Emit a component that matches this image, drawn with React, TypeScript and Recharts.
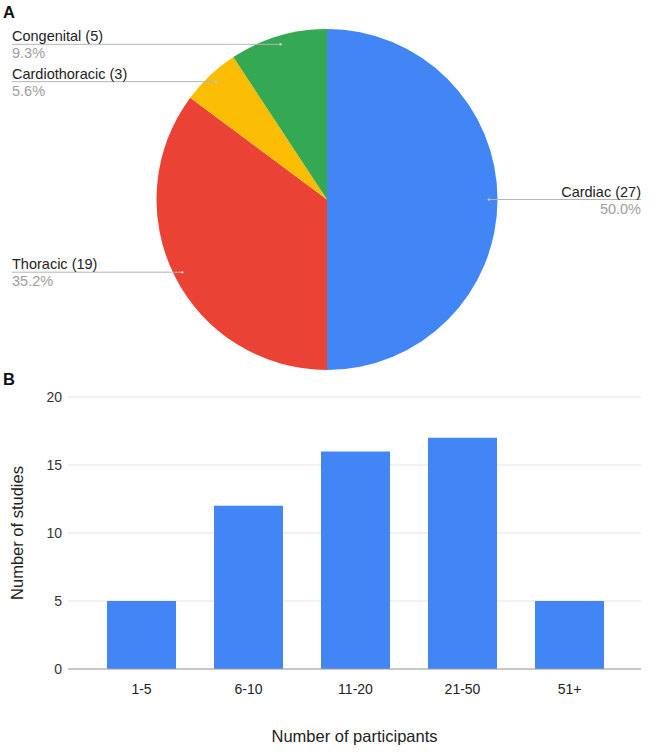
import React from 'react';
import { PieChart, Pie, Cell, BarChart, Bar, XAxis, YAxis, CartesianGrid } from 'recharts';

const categories = ['Cardiac', 'Thoracic', 'Cardiothoracic', 'Congenital'];
const counts = [27, 19, 3, 5];
const sliceColors = ['#4285f4', '#ea4335', '#fbbc04', '#34a853'];

const participantBins = ['1-5', '6-10', '11-20', '21-50', '51+'];
const studyCounts = [5, 12, 16, 17, 5];
const yTicks = [0, 5, 10, 15, 20];

const total = counts.reduce((a, b) => a + b, 0);
const pieData = categories.map((name, i) => ({ name, value: counts[i] }));
const barData = participantBins.map((bin, i) => ({ bin, studies: studyCounts[i] }));

const FONT = '"Liberation Sans", Arial, Helvetica, sans-serif';

const renderLabel = (props: any) => {
  const { cx, cy, midAngle, outerRadius, index } = props;
  const RAD = Math.PI / 180;
  const r = outerRadius * 0.95;
  const px = cx + r * Math.cos(-midAngle * RAD);
  const py = cy + r * Math.sin(-midAngle * RAD);
  const right = px > cx + 1;
  const ex = right ? 641 : 12;
  const anchor = right ? 'end' : 'start';
  const pct = ((counts[index] / total) * 100).toFixed(1) + '%';
  return (
    <g key={'lbl' + index}>
      <line x1={px} y1={py} x2={ex} y2={py} stroke="#b5b5b5" strokeWidth={1} />
      <circle cx={px} cy={py} r={1.3} fill="#c8c8c8" />
      <text x={ex} y={py - 3} textAnchor={anchor} fill="#222" fontSize={14.5} fontFamily={FONT}>
        {categories[index]} ({counts[index]})
      </text>
      <text x={ex} y={py + 14} textAnchor={anchor} fill="#9e9e9e" fontSize={14.5} fontFamily={FONT}>
        {pct}
      </text>
    </g>
  );
};

export default function App() {
  return (
    <div style={{ position: 'absolute', left: 0, top: 0, width: 661, height: 755, background: '#fff', fontFamily: FONT }}>
      <div style={{ position: 'absolute', left: 0, top: 0 }}>
        <PieChart width={661} height={380} margin={{ top: 0, right: 0, bottom: 0, left: 0 }}>
          <Pie
            data={pieData}
            dataKey="value"
            nameKey="name"
            cx={327}
            cy={199.5}
            outerRadius={170.5}
            startAngle={90}
            endAngle={-270}
            stroke="none"
            label={renderLabel}
            labelLine={false}
            isAnimationActive={false}
          >
            {pieData.map((d, i) => (
              <Cell key={d.name} fill={sliceColors[i]} />
            ))}
          </Pie>
        </PieChart>
      </div>
      <div style={{ position: 'absolute', left: 0, top: 360 }}>
        <BarChart width={661} height={395} data={barData} margin={{ top: 37, right: 20, bottom: 0, left: 0 }} barSize={69}>
          <CartesianGrid vertical={false} stroke="#e3e3e3" />
          <XAxis
            dataKey="bin"
            height={86}
            padding={{ left: 20, right: 18 }}
            tickLine={false}
            tickSize={0}
            tickMargin={15}
            axisLine={{ stroke: '#a0a0a0' }}
            tick={{ fill: '#222', fontSize: 14 }}
            label={{ value: 'Number of participants', position: 'insideBottom', offset: 13, fill: '#222', fontSize: 16.5 }}
          />
          <YAxis
            width={68}
            domain={[0, 20]}
            ticks={yTicks}
            axisLine={false}
            tickLine={false}
            tickSize={0}
            tickMargin={6}
            tick={{ fill: '#333', fontSize: 14 }}
            label={{ value: 'Number of studies', angle: -90, position: 'insideLeft', offset: 17.5, textAnchor: 'middle', fill: '#222', fontSize: 16.5 }}
          />
          <Bar dataKey="studies" fill="#4285f4" isAnimationActive={false} />
        </BarChart>
      </div>
      <svg width={661} height={755} style={{ position: 'absolute', left: 0, top: 0, pointerEvents: 'none' }}>
        <text x={3} y={18} fontSize={16.5} fontWeight="bold" fill="#111" fontFamily={FONT}>A</text>
        <text x={3} y={385} fontSize={16.5} fontWeight="bold" fill="#111" fontFamily={FONT}>B</text>
      </svg>
    </div>
  );
}
